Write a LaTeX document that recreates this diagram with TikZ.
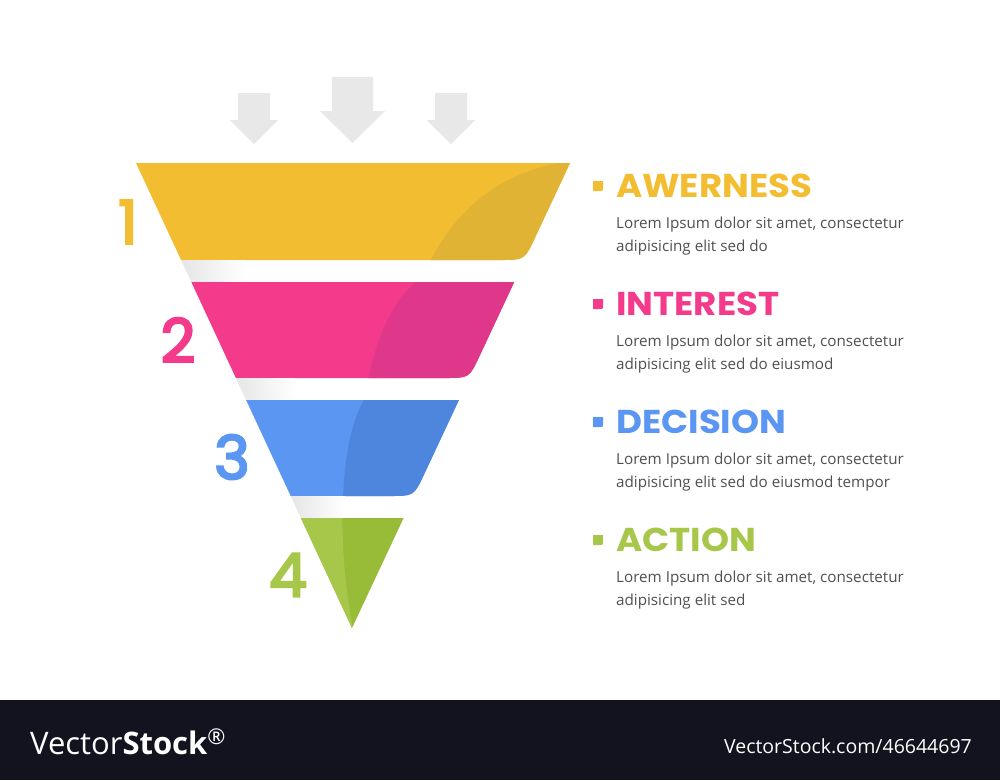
\documentclass[tikz,border=0pt]{standalone}
\usepackage{fontspec}
\setmainfont{Open Sans}
\newfontfamily\headfont[FakeStretch=1.08]{Poppins}
\newfontfamily\numfont[FakeBold=4]{Poppins}
\usepackage{tikz}
\usetikzlibrary{positioning}
\definecolor{cyel}{HTML}{F2BD30}
\definecolor{cyeldk}{HTML}{E0B334}
\definecolor{cpink}{HTML}{F43A8B}
\definecolor{cpinkdk}{HTML}{DF3789}
\definecolor{cblue}{HTML}{5A96F2}
\definecolor{cbluedk}{HTML}{4E86DD}
\definecolor{cgreen}{HTML}{A7C74A}
\definecolor{cgreendk}{HTML}{98BB38}
\definecolor{cgrey}{HTML}{505050}
\definecolor{cdrop}{HTML}{E8E8E8}
\definecolor{cbanner}{HTML}{12131F}
\tikzset{
  head/.style={
    anchor=base west,
    inner sep=0pt,
    font=\headfont\bfseries\fontsize{33}{33}\selectfont
  },
  blurb/.style={
    anchor=base west,
    align=left,
    inner sep=0pt,
    text=cgrey,
    font=\fontsize{15.2}{23}\selectfont
  },
  num/.style={
    inner sep=0pt,
    font=\numfont\fontsize{60}{60}\selectfont
  },
  drop/.style={fill=cdrop},
  gapshadow/.style={left color=black!10, right color=white}
}

\begin{document}
\begin{tikzpicture}[x=1pt, y=-1pt]
  \useasboundingbox (0,0) rectangle (1000,780);
  \fill[white] (0,0) rectangle (1000,780);
  % arrows on top
  \fill[drop] (238,93) -- (270,93) -- (270,120) -- (278,120) -- (254,144) -- (230,120) -- (238,120) -- cycle;
  \fill[drop] (332,77) -- (373,77) -- (373,111) -- (385,111) -- (352.5,143) -- (320,111) -- (332,111) -- cycle;
  \fill[drop] (435,93) -- (467,93) -- (467,120) -- (475.5,120) -- (451,144) -- (426.5,120) -- (435,120) -- cycle;
  % funnel
  \begin{scope}
    \clip (136,163) -- (570,163) -- (534.7,238.3) .. controls (524.5,260) .. (500.5,260) -- (181.1,260) -- cycle;
    \fill[cyel] (100,150) rectangle (600,270);
    \fill[cyeldk] (430,262) .. controls (462,198) and (515,166) .. (580,160) -- (580,262) -- cycle;
  \end{scope}
  \shade[gapshadow] (181.1,260) -- (245,260) -- (245,282) -- (191.3,282) -- cycle;
  \begin{scope}
    \clip (191.3,282) -- (514.2,282) -- (479.4,356.3) .. controls (469.2,378) .. (445.2,378) -- (235.9,378) -- cycle;
    \fill[cpink] (150,270) rectangle (550,390);
    \fill[cpinkdk] (368,380) .. controls (378,332) and (394,300) .. (418,280) -- (520,280) -- (520,380) -- cycle;
  \end{scope}
  \shade[gapshadow] (235.9,378) -- (295,378) -- (295,400) -- (246.1,400) -- cycle;
  \begin{scope}
    \clip (246.1,400) -- (458.9,400) -- (424.1,474.3) .. controls (413.9,496) .. (389.9,496) -- (290.7,496) -- cycle;
    \fill[cblue] (200,390) rectangle (500,510);
    \fill[cbluedk] (343,498) .. controls (345,452) and (352,420) .. (365,398) -- (470,398) -- (470,498) -- cycle;
  \end{scope}
  \shade[gapshadow] (290.7,496) -- (345,496) -- (345,518) -- (300.9,518) -- cycle;
  \begin{scope}
    \clip (300.9,518) -- (403.6,518) -- (352,628) -- cycle;
    \fill[cgreendk] (290,510) rectangle (420,640);
    \fill[cgreen] (290,516) -- (342,516) .. controls (344,572) .. (353,630) -- (290,630) -- cycle;
  \end{scope}
  % numbers
  \node (n1) [num, text=cyel] at (128,222) {1};
  \node (n2) [num, text=cpink] at (178,340) {2};
  \node (n3) [num, text=cblue] at (232,457) {3};
  \node (n4) [num, text=cgreen] at (288,575) {4};
  % headings and text
  \node (h1) [head, text=cyel] at (616,197) {AWERNESS};
  \node (b1) [blurb] at (616,251) {Lorem Ipsum dolor sit amet, consectetur\\adipisicing elit sed do};
  \node (h2) [head, text=cpink] at (616,315) {INTEREST};
  \node (b2) [blurb] at (616,369) {Lorem Ipsum dolor sit amet, consectetur\\adipisicing elit sed do eiusmod};
  \node (h3) [head, text=cblue] at (616,433) {DECISION};
  \node (b3) [blurb] at (616,487) {Lorem Ipsum dolor sit amet, consectetur\\adipisicing elit sed do eiusmod tempor};
  \node (h4) [head, text=cgreen] at (616,551) {ACTION};
  \node (b4) [blurb] at (616,605) {Lorem Ipsum dolor sit amet, consectetur\\adipisicing elit sed};
  % bullets
  \fill[cyel] (593,181) -- (603,181) -- (603,187) .. controls (603,191) .. (599,191) -- (593,191) -- cycle;
  \fill[cpink] (593,299) -- (603,299) -- (603,305) .. controls (603,309) .. (599,309) -- (593,309) -- cycle;
  \fill[cblue] (593,417) -- (603,417) -- (603,423) .. controls (603,427) .. (599,427) -- (593,427) -- cycle;
  \fill[cgreen] (593,535) -- (603,535) -- (603,541) .. controls (603,545) .. (599,545) -- (593,545) -- cycle;
  % banner
  \fill[cbanner] (0,700) rectangle (1000,780);
  \node (logo) [anchor=base west, inner sep=0pt, text=white, font=\fontsize{31}{31}\selectfont] at (30,754) {Vector\textbf{Stock}\textsuperscript{\textregistered}};
  \node (url) [anchor=base east, inner sep=0pt, text=white, font=\fontsize{19.5}{19.5}\selectfont] at (972,753) {VectorStock.com/46644697};
\end{tikzpicture}
\end{document}
